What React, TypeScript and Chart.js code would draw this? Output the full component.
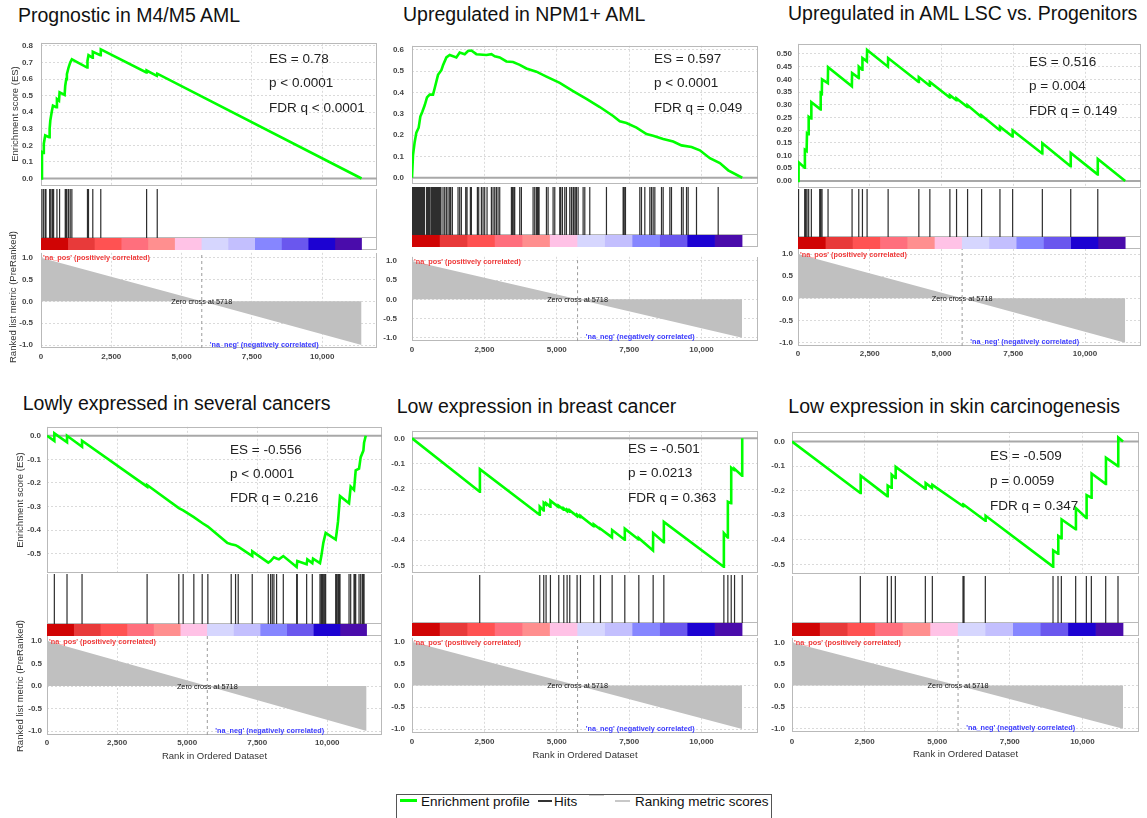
import React, { useEffect, useRef } from "react";
import { Chart, registerables } from "chart.js";

Chart.register(...registerables);

const FONT = '"Liberation Sans", Arial, Helvetica, sans-serif';

// ---------------- shared data ----------------
const X_MAX = 11950;
const ZERO_CROSS = 5718;
const X_TICKS = [0, 2500, 5000, 7500, 10000];
const X_TICK_LABELS = ["0", "2,500", "5,000", "7,500", "10,000"];
const METRIC_TICKS = [1.0, 0.5, 0.0, -0.5, -1.0];
const METRIC_TICK_LABELS = ["1.0", "0.5", "0.0", "-0.5", "-1.0"];
const METRIC_RANKS = [0, 5718, 11400];
const METRIC_VALUES = [1.0, 0.0, -1.0];
const HEAT_EDGES = [0, 950, 1900, 2850, 3800, 4750, 5700, 6650, 7600, 8550, 9500, 10450, 11400];
const HEAT_COLORS = ["#d00404", "#e83a3a", "#ff5252", "#ff6f7d", "#ff8f8f", "#ffc2e6", "#d6d6fe", "#c3bffe", "#8686ff", "#6a57ee", "#1c02d2", "#4a0cab"];
const POS_LABEL = "'na_pos' (positively correlated)";
const NEG_LABEL = "'na_neg' (negatively correlated)";
const NEG_LABEL_RANK = 6000;
const ZERO_LABEL = "Zero cross at 5718";
const ES_TITLE = "Enrichment score (ES)";
const METRIC_TITLE = "Ranked list metric (PreRanked)";
const X_TITLE = "Rank in Ordered Dataset";
const LEGEND_LABELS = ["Enrichment profile", "Hits", "Ranking metric scores"];

// ---------------- panel 1 ----------------
const P1_TITLE = "Prognostic in M4/M5 AML";
const P1_STATS = ["ES = 0.78", "p < 0.0001", "FDR q < 0.0001"];
const P1_ES_TICKS = [0, 0.1, 0.2, 0.3, 0.4, 0.5, 0.6, 0.7, 0.8];
const P1_ES = [[0, 0], [35, 0.16], [94, 0.155], [100, 0.21], [150, 0.26], [290, 0.25], [307, 0.3], [331, 0.35], [390, 0.41], [425, 0.44], [540, 0.43], [567, 0.48], [640, 0.47], [661, 0.52], [840, 0.505], [862, 0.56], [898, 0.6], [921, 0.63], [980, 0.67], [1039, 0.7], [1098, 0.72], [1640, 0.67], [1653, 0.71], [1689, 0.745], [1830, 0.73], [1842, 0.765], [2110, 0.745], [2126, 0.78], [3745, 0.64], [3756, 0.652], [4120, 0.62], [4134, 0.633], [11400, 0]];
const P1_HITS = [35, 94, 154, 177, 307, 331, 390, 425, 449, 567, 661, 862, 898, 921, 980, 1039, 1098, 1653, 1689, 1842, 2126, 3756, 4134];

// ---------------- panel 2 ----------------
const P2_TITLE = "Upregulated in NPM1+ AML";
const P2_STATS = ["ES = 0.597", "p < 0.0001", "FDR q = 0.049"];
const P2_ES_TICKS = [0, 0.1, 0.2, 0.3, 0.4, 0.5, 0.6];
const P2_ES = [[0, 0], [35, 0.107], [92, 0.167], [150, 0.212], [230, 0.235], [288, 0.287], [357, 0.31], [438, 0.34], [518, 0.377], [610, 0.39], [726, 0.39], [783, 0.42], [899, 0.483], [1014, 0.505], [1071, 0.528], [1187, 0.565], [1302, 0.576], [1532, 0.565], [1647, 0.588], [1820, 0.58], [1935, 0.595], [2051, 0.597], [2223, 0.58], [2569, 0.576], [2742, 0.58], [2857, 0.57], [3030, 0.565], [3260, 0.546], [3490, 0.543], [3721, 0.53], [3951, 0.513], [4297, 0.498], [4643, 0.475], [5103, 0.445], [5564, 0.407], [6025, 0.37], [6486, 0.332], [6947, 0.29], [7177, 0.265], [7407, 0.257], [7753, 0.235], [8099, 0.205], [8329, 0.197], [8675, 0.182], [9020, 0.17], [9308, 0.152], [9654, 0.144], [9942, 0.129], [10287, 0.092], [10633, 0.069], [10921, 0.035], [11405, 0]];
const P2_HITS = [5, 25, 50, 75, 100, 125, 150, 175, 200, 230, 260, 290, 320, 350, 380, 410, 430, 500, 525, 550, 575, 600, 625, 675, 700, 730, 760, 790, 820, 850, 880, 910, 940, 970, 1000, 1071, 1129, 1187, 1244, 1302, 1336, 1394, 1590, 1647, 1705, 1855, 1901, 2016, 2051, 2258, 2304, 2396, 2454, 2511, 2592, 2742, 2799, 2857, 2915, 2972, 3030, 3433, 3468, 3514, 3548, 3721, 3779, 4182, 4239, 4297, 4332, 4355, 4389, 4643, 4700, 4873, 4931, 5103, 5138, 5196, 5276, 5334, 5449, 5507, 5564, 5599, 5656, 5679, 5737, 5910, 5968, 6140, 6716, 7292, 7327, 7373, 7868, 7926, 8041, 8214, 8271, 8329, 8387, 8617, 8675, 8905, 8962, 9308, 9366, 9481, 9538, 9826, 10575];

// ---------------- panel 3 ----------------
const P3_TITLE = "Upregulated in AML LSC vs. Progenitors";
const P3_STATS = ["ES = 0.516", "p = 0.004", "FDR q = 0.149"];
const P3_ES_TICKS = [0, 0.05, 0.1, 0.15, 0.2, 0.25, 0.3, 0.35, 0.4, 0.45, 0.5];
const P3_ES = [[0, 0], [20, 0.074], [233, 0.052], [240, 0.123], [300, 0.118], [314, 0.188], [365, 0.184], [372, 0.253], [458, 0.246], [465, 0.31], [785, 0.282], [791, 0.347], [830, 0.344], [837, 0.4], [1040, 0.385], [1047, 0.448], [1877, 0.373], [1884, 0.425], [2110, 0.406], [2117, 0.45], [2238, 0.438], [2245, 0.484], [2400, 0.471], [2407, 0.516], [3133, 0.45], [3140, 0.484], [4203, 0.39], [4210, 0.409], [4587, 0.375], [4594, 0.39], [5285, 0.329], [5292, 0.338], [5517, 0.318], [5524, 0.325], [5901, 0.291], [5908, 0.298], [6390, 0.252], [6397, 0.258], [7029, 0.2], [7036, 0.214], [7471, 0.175], [7478, 0.199], [8506, 0.108], [8513, 0.149], [9495, 0.058], [9502, 0.11], [10437, 0.026], [10444, 0.087], [11400, 0]];
const P3_HITS = [20, 233, 267, 314, 372, 465, 756, 791, 837, 1047, 1884, 2117, 2245, 2407, 3140, 4210, 4594, 5292, 5524, 5908, 6397, 7036, 7478, 8513, 9502, 10444];

// ---------------- panel 4 ----------------
const P4_TITLE = "Lowly expressed in several cancers";
const P4_STATS = ["ES = -0.556", "p < 0.0001", "FDR q = 0.216"];
const P4_ES_TICKS = [0, -0.1, -0.2, -0.3, -0.4, -0.5];
const P4_ES = [[0, 0], [262, -0.022], [262, 0.01], [714, -0.028], [714, 0.0], [1250, -0.047], [1250, -0.021], [3571, -0.216], [3571, -0.209], [4702, -0.307], [4857, -0.316], [5238, -0.345], [5536, -0.37], [5738, -0.385], [6428, -0.454], [6571, -0.46], [6726, -0.464], [6821, -0.47], [7321, -0.51], [7321, -0.49], [7893, -0.538], [7976, -0.531], [8095, -0.515], [8190, -0.52], [8274, -0.524], [8429, -0.51], [8905, -0.556], [8929, -0.531], [9262, -0.545], [9286, -0.524], [9464, -0.54], [9490, -0.521], [9738, -0.54], [9786, -0.51], [9857, -0.454], [9940, -0.412], [10298, -0.44], [10333, -0.41], [10381, -0.363], [10452, -0.256], [10774, -0.286], [10833, -0.216], [10952, -0.23], [11012, -0.147], [11131, -0.14], [11190, -0.091], [11286, -0.063], [11310, -0.03], [11370, 0]];
const P4_HITS = [262, 714, 1250, 3571, 4702, 4857, 5238, 5536, 5738, 6571, 6726, 6821, 7321, 7893, 7976, 8036, 8095, 8190, 8429, 8905, 8929, 9262, 9464, 9738, 9786, 9821, 9857, 9905, 9940, 10298, 10333, 10381, 10417, 10452, 10774, 10833, 10952, 10988, 11012, 11131, 11190, 11250, 11286, 11310];

// ---------------- panel 5 ----------------
const P5_TITLE = "Low expression in breast cancer";
const P5_STATS = ["ES = -0.501", "p = 0.0213", "FDR q = 0.363"];
const P5_ES_TICKS = [0, -0.1, -0.2, -0.3, -0.4, -0.5];
const P5_ES = [[0, 0], [2339, -0.21], [2345, -0.121], [4406, -0.3], [4412, -0.268], [4544, -0.283], [4550, -0.253], [4625, -0.26], [4631, -0.255], [4775, -0.268], [4781, -0.245], [5063, -0.27], [5069, -0.265], [5236, -0.28], [5242, -0.275], [5351, -0.285], [5357, -0.28], [5443, -0.288], [5449, -0.283], [5696, -0.305], [5702, -0.3], [5812, -0.31], [5818, -0.305], [6272, -0.345], [6278, -0.338], [6503, -0.357], [6509, -0.355], [6906, -0.389], [6912, -0.36], [7344, -0.398], [7350, -0.355], [7828, -0.397], [7834, -0.392], [8323, -0.44], [8329, -0.372], [8692, -0.408], [8698, -0.328], [10765, -0.504], [10771, -0.372], [10903, -0.389], [10909, -0.249], [11019, -0.255], [11025, -0.115], [11134, -0.125], [11140, -0.12], [11400, -0.147], [11405, 0]];
const P5_HITS = [2339, 4412, 4550, 4631, 4781, 5069, 5242, 5357, 5449, 5702, 5818, 6278, 6509, 6912, 7350, 7834, 8329, 8698, 10771, 10909, 11025, 11140, 11405];

// ---------------- panel 6 ----------------
const P6_TITLE = "Low expression in skin carcinogenesis";
const P6_STATS = ["ES = -0.509", "p = 0.0059", "FDR q = 0.347"];
const P6_ES_TICKS = [0, -0.1, -0.2, -0.3, -0.4, -0.5];
const P6_ES = [[0, 0], [2353, -0.209], [2365, -0.139], [3283, -0.222], [3295, -0.179], [3421, -0.188], [3433, -0.135], [3559, -0.148], [3571, -0.103], [4592, -0.192], [4603, -0.169], [4821, -0.188], [4833, -0.176], [5880, -0.262], [5889, -0.258], [5924, -0.262], [5930, -0.258], [6658, -0.322], [6668, -0.302], [8989, -0.509], [8995, -0.443], [9161, -0.456], [9170, -0.384], [9276, -0.393], [9285, -0.317], [9769, -0.357], [9778, -0.271], [10137, -0.311], [10146, -0.218], [10309, -0.228], [10318, -0.13], [10803, -0.172], [10812, -0.066], [11227, -0.1], [11236, 0.016], [11400, 0]];
const P6_HITS = [2353, 3283, 3421, 3559, 4592, 4833, 5889, 5924, 6658, 8989, 9161, 9276, 9769, 10137, 10309, 10803, 11227];

// ---------------- layout (pixels) ----------------
const AXIS_W = 44;
const M = 10;

const LAYOUTS = [
  { left: 41, ppr: 0.0281, esTop: 40, es0: 181, esK: 172.1, hitsTop: 189, heatTop: 238, heatBottom: 250, m1: 255, mM1: 345, metricBottom: 348, tickY: 357, titleX: 18, titleBase: 22.5, statsX: 269, statsBase: [63, 87.5, 112], esPad: 8, metPad: 8, dec: 1, esTitleX: 15, metTitleX: 13, esTitleY: 114, metTitleY: 297, xTitleY: 0 },
  { left: 412, ppr: 0.02894, esTop: 43, es0: 180.3, esK: 221.7, hitsTop: 187, heatTop: 235, heatBottom: 247, m1: 251.7, mM1: 340, metricBottom: 344, tickY: 353, titleX: 403, titleBase: 21.7, statsX: 654, statsBase: [63, 87.5, 112], esPad: 8, metPad: 15, dec: 1, esTitleX: 0, metTitleX: 0, esTitleY: 0, metTitleY: 0, xTitleY: 0 },
  { left: 798, ppr: 0.02867, esTop: 43, es0: 181.7, esK: 256.8, hitsTop: 189, heatTop: 237, heatBottom: 249, m1: 254, mM1: 342.7, metricBottom: 346, tickY: 354, titleX: 788, titleBase: 20.7, statsX: 1029, statsBase: [66, 90, 115], esPad: 6, metPad: 5, dec: 2, esTitleX: 0, metTitleX: 0, esTitleY: 0, metTitleY: 0, xTitleY: 0 },
  { left: 47, ppr: 0.028, esTop: 426, es0: 435, esK: 238.6, hitsTop: 574, heatTop: 624, heatBottom: 636, m1: 641, mM1: 731, metricBottom: 735, tickY: 743, titleX: 22.7, titleBase: 410.7, statsX: 230, statsBase: [454, 478, 502], esPad: 6, metPad: 5, dec: 1, esTitleX: 20, metTitleX: 20, esTitleY: 500, metTitleY: 686, xTitleY: 756 },
  { left: 412, ppr: 0.02894, esTop: 429, es0: 436.7, esK: 261.2, hitsTop: 575, heatTop: 623, heatBottom: 636, m1: 640, mM1: 729, metricBottom: 733, tickY: 742, titleX: 396.7, titleBase: 413.3, statsX: 628, statsBase: [453, 477, 502], esPad: 7, metPad: 7, dec: 1, esTitleX: 0, metTitleX: 0, esTitleY: 0, metTitleY: 0, xTitleY: 755 },
  { left: 792, ppr: 0.02904, esTop: 430, es0: 440, esK: 252, hitsTop: 576, heatTop: 623, heatBottom: 636, m1: 640.7, mM1: 728.7, metricBottom: 732, tickY: 742, titleX: 788.3, titleBase: 414, statsX: 990, statsBase: [460, 485, 510], esPad: 7, metPad: 7, dec: 1, esTitleX: 0, metTitleX: 0, esTitleY: 0, metTitleY: 0, xTitleY: 754 },
];

const PANELS = [
  { title: P1_TITLE, stats: P1_STATS, esTicks: P1_ES_TICKS, es: P1_ES, hits: P1_HITS },
  { title: P2_TITLE, stats: P2_STATS, esTicks: P2_ES_TICKS, es: P2_ES, hits: P2_HITS },
  { title: P3_TITLE, stats: P3_STATS, esTicks: P3_ES_TICKS, es: P3_ES, hits: P3_HITS },
  { title: P4_TITLE, stats: P4_STATS, esTicks: P4_ES_TICKS, es: P4_ES, hits: P4_HITS },
  { title: P5_TITLE, stats: P5_STATS, esTicks: P5_ES_TICKS, es: P5_ES, hits: P5_HITS },
  { title: P6_TITLE, stats: P6_STATS, esTicks: P6_ES_TICKS, es: P6_ES, hits: P6_HITS },
];

// ---------------- plugins ----------------
const framePlugin = {
  id: "frame",
  beforeDatasetsDraw(chart: any, _args: any, opts: any) {
    const { ctx, chartArea: a } = chart;
    const sides: string = (opts && opts.sides) || "tblr";
    const l = Math.round(a.left) + 0.5;
    const r = Math.round(a.right) - 0.5;
    const t = Math.round(a.top) + 0.5;
    const b = Math.round(a.bottom) - 0.5;
    ctx.save();
    ctx.strokeStyle = "#b9b9b9";
    ctx.lineWidth = 1;
    ctx.beginPath();
    if (sides.includes("t")) { ctx.moveTo(l, t); ctx.lineTo(r, t); }
    if (sides.includes("b")) { ctx.moveTo(l, b); ctx.lineTo(r, b); }
    if (sides.includes("l")) { ctx.moveTo(l, Math.round(a.top)); ctx.lineTo(l, Math.round(a.bottom)); }
    if (sides.includes("r")) { ctx.moveTo(r, Math.round(a.top)); ctx.lineTo(r, Math.round(a.bottom)); }
    ctx.stroke();
    ctx.restore();
  },
};

const metricTextPlugin = {
  id: "metricText",
  afterDatasetsDraw(chart: any) {
    const { ctx, chartArea: a, scales } = chart;
    const x = scales.x;
    const y = scales.y;
    ctx.save();
    ctx.textAlign = "left";
    ctx.textBaseline = "alphabetic";
    ctx.font = `bold 7.3px ${FONT}`;
    ctx.fillStyle = "#f03a3a";
    ctx.fillText(POS_LABEL, a.left + 2, a.top + 7.5);
    ctx.font = `7.3px ${FONT}`;
    ctx.fillStyle = "#111111";
    ctx.textAlign = "center";
    ctx.textBaseline = "middle";
    ctx.fillText(ZERO_LABEL, x.getPixelForValue(ZERO_CROSS), y.getPixelForValue(0) + 0.5);
    ctx.font = `bold 7.3px ${FONT}`;
    ctx.fillStyle = "#3c3cff";
    ctx.textAlign = "left";
    ctx.textBaseline = "alphabetic";
    ctx.fillText(NEG_LABEL, x.getPixelForValue(NEG_LABEL_RANK), y.getPixelForValue(-1) + 1.5);
    ctx.restore();
  },
};

function fmt(v: number, dec: number) {
  const s = Number(v).toFixed(dec);
  return Number(s) === 0 ? (0).toFixed(dec) : s;
}

// ---------------- text helpers ----------------
function Txt(props: { x: number; base: number; size: number; text: string; color?: string; center?: boolean }) {
  const { x, base, size, text, color, center } = props;
  return (
    <div
      style={{
        position: "absolute",
        left: x,
        top: base - 0.8465 * size,
        fontFamily: FONT,
        fontSize: size,
        lineHeight: `${size}px`,
        color: color || "#111",
        whiteSpace: "nowrap",
        transform: center ? "translateX(-50%)" : undefined,
      }}
    >
      {text}
    </div>
  );
}

function VTxt(props: { x: number; y: number; size: number; text: string }) {
  const { x, y, size, text } = props;
  return (
    <div
      style={{
        position: "absolute",
        left: x,
        top: y,
        fontFamily: FONT,
        fontSize: size,
        lineHeight: `${size}px`,
        color: "#333",
        whiteSpace: "nowrap",
        transform: "translate(-50%, -50%) rotate(-90deg)",
      }}
    >
      {text}
    </div>
  );
}

// ---------------- panel ----------------
function Panel(props: { d: any; L: any }) {
  const { d, L } = props;
  const esRef = useRef<HTMLCanvasElement>(null);
  const hitsRef = useRef<HTMLCanvasElement>(null);
  const heatRef = useRef<HTMLCanvasElement>(null);
  const metRef = useRef<HTMLCanvasElement>(null);

  const x0 = Math.round(L.left);
  const W = Math.round(X_MAX * L.ppr);
  const cx = x0 - AXIS_W;
  const cw = AXIS_W + W + M;
  const esTop = Math.round(L.esTop);
  const hitsTop = Math.round(L.hitsTop);
  const heatTop = Math.round(L.heatTop);
  const heatBot = Math.round(L.heatBottom);
  const metBot = Math.round(L.metricBottom);
  const xPad = Math.max(0, L.tickY - metBot - 4.8);
  const xAxisH = Math.ceil(xPad + 12);
  const esH = hitsTop - esTop + 2 * M;
  const hitsH = heatTop - hitsTop + 2 * M;
  const heatH = heatBot - heatTop + 2 * M;
  const metH = metBot - heatBot + M + xAxisH;

  useEffect(() => {
    const tickFont = { family: FONT, size: 8, weight: "bold" as any };
    const grid = { color: "#dadada", drawTicks: false, lineWidth: 1 };
    const border = { display: false, dash: [2, 2] };
    const base = {
      animation: false as const,
      responsive: false,
      events: [] as any[],
    };
    const noPlug = { legend: { display: false }, tooltip: { enabled: false } };

    const esMax = (L.es0 - esTop) / L.esK;
    const esMin = (L.es0 - hitsTop) / L.esK;

    const xGrid = {
      type: "linear",
      min: 0,
      max: X_MAX,
      afterBuildTicks: (s: any) => { s.ticks = X_TICKS.map((v) => ({ value: v })); },
      ticks: { display: false },
      grid,
      border,
      afterFit: (s: any) => { s.height = 0; },
    };

    const esChart = new Chart(esRef.current as any, {
      type: "line",
      data: {
        datasets: [
          { data: d.es.map((p: number[]) => ({ x: p[0], y: p[1] })), borderColor: "#00ff00", borderWidth: 2.6, pointRadius: 0, tension: 0, order: 0 },
          { data: [{ x: 0, y: 0 }, { x: X_MAX, y: 0 }], borderColor: "#a8a8a8", borderWidth: 2, pointRadius: 0, order: 1 },
        ],
      },
      options: {
        ...base,
        layout: { padding: { left: 0, top: M, right: M, bottom: M } },
        plugins: { ...noPlug, frame: { sides: "tblr" } } as any,
        scales: {
          x: xGrid as any,
          y: {
            type: "linear",
            min: esMin,
            max: esMax,
            afterBuildTicks: (s: any) => { s.ticks = d.esTicks.map((v: number) => ({ value: v })); },
            ticks: { font: tickFont, color: "#454545", padding: L.esPad, callback: (v: any) => fmt(v, L.dec) },
            grid,
            border,
            afterFit: (s: any) => { s.width = AXIS_W; },
          } as any,
        },
      },
      plugins: [framePlugin as any],
    });

    // each hit is a vertical segment from the bottom (0) to the top (1) of the hits band
    const hitSegments: any[] = [];
    d.hits.forEach((h: number) => {
      hitSegments.push({ x: h, y: 0 }, { x: h, y: 1 }, { x: h, y: null });
    });

    const hitsChart = new Chart(hitsRef.current as any, {
      type: "line",
      data: {
        datasets: [
          {
            data: hitSegments,
            borderColor: "#2e2e2e",
            borderWidth: 1.2,
            pointRadius: 0,
            spanGaps: false,
            tension: 0,
          } as any,
        ],
      },
      options: {
        ...base,
        layout: { padding: { left: AXIS_W, top: M, right: M, bottom: M } },
        plugins: { ...noPlug, frame: { sides: "blr" } } as any,
        scales: {
          x: { type: "linear", display: false, min: 0, max: X_MAX },
          y: { type: "linear", display: false, min: 0, max: 1 },
        },
      },
      plugins: [framePlugin as any],
    });

    const heatChart = new Chart(heatRef.current as any, {
      type: "bar",
      data: {
        labels: ["rank"],
        datasets: HEAT_COLORS.map((c, i) => ({
          data: [[HEAT_EDGES[i], HEAT_EDGES[i + 1]]],
          backgroundColor: c,
          borderWidth: 0,
          barPercentage: 1,
          categoryPercentage: 1,
          grouped: false,
        })) as any,
      },
      options: {
        ...base,
        indexAxis: "y",
        layout: { padding: { left: AXIS_W, top: M, right: M, bottom: M } },
        plugins: { ...noPlug, frame: { sides: "blr" } } as any,
        scales: {
          x: { type: "linear", display: false, min: 0, max: X_MAX },
          y: { type: "category", display: false },
        },
      },
      plugins: [framePlugin as any],
    });

    const k = (L.mM1 - L.m1) / 2;
    const mid = (L.m1 + L.mM1) / 2;
    const mMax = (mid - heatBot) / k;
    const mMin = (mid - metBot) / k;

    const metChart = new Chart(metRef.current as any, {
      type: "line",
      data: {
        datasets: [
          { data: METRIC_RANKS.map((x, i) => ({ x, y: METRIC_VALUES[i] })), fill: "origin", backgroundColor: "#c0c0c0", borderColor: "rgba(0,0,0,0)", borderWidth: 0, pointRadius: 0, order: 1 },
          { data: [{ x: ZERO_CROSS, y: mMin }, { x: ZERO_CROSS, y: mMax }], borderColor: "#9c9c9c", borderWidth: 1, borderDash: [3, 3], pointRadius: 0, order: 0 },
        ] as any,
      },
      options: {
        ...base,
        layout: { padding: { left: 0, top: M, right: M, bottom: 0 } },
        plugins: { ...noPlug, frame: { sides: "blr" } } as any,
        scales: {
          x: {
            type: "linear",
            min: 0,
            max: X_MAX,
            afterBuildTicks: (s: any) => { s.ticks = X_TICKS.map((v) => ({ value: v })); },
            ticks: { font: tickFont, color: "#454545", padding: xPad, maxRotation: 0, autoSkip: false, callback: (v: any) => X_TICK_LABELS[X_TICKS.indexOf(Number(v))] },
            grid,
            border,
            afterFit: (s: any) => { s.height = xAxisH; },
          } as any,
          y: {
            type: "linear",
            min: mMin,
            max: mMax,
            afterBuildTicks: (s: any) => { s.ticks = METRIC_TICKS.map((v) => ({ value: v })); },
            ticks: { font: tickFont, color: "#454545", padding: L.metPad, callback: (v: any) => METRIC_TICK_LABELS[METRIC_TICKS.indexOf(Number(v))] },
            grid,
            border,
            afterFit: (s: any) => { s.width = AXIS_W; },
          } as any,
        },
      },
      plugins: [framePlugin as any, metricTextPlugin as any],
    });

    return () => {
      esChart.destroy();
      hitsChart.destroy();
      heatChart.destroy();
      metChart.destroy();
    };
  }, []);

  const cstyle = (top: number, h: number) => ({ position: "absolute" as const, left: cx, top, width: cw, height: h });

  return (
    <>
      <Txt x={L.titleX} base={L.titleBase} size={19.5} text={d.title} color="#111" />
      <canvas ref={esRef} width={cw} height={esH} style={cstyle(esTop - M, esH)} />
      <canvas ref={hitsRef} width={cw} height={hitsH} style={cstyle(hitsTop - M, hitsH)} />
      <canvas ref={heatRef} width={cw} height={heatH} style={cstyle(heatTop - M, heatH)} />
      <canvas ref={metRef} width={cw} height={metH} style={cstyle(heatBot - M, metH)} />
      {d.stats.map((s: string, i: number) => (
        <Txt key={i} x={L.statsX} base={L.statsBase[i]} size={13.5} text={s} color="#222" />
      ))}
      {L.esTitleX ? <VTxt x={L.esTitleX} y={L.esTitleY} size={9.5} text={ES_TITLE} /> : null}
      {L.metTitleX ? <VTxt x={L.metTitleX} y={L.metTitleY} size={9.5} text={METRIC_TITLE} /> : null}
      {L.xTitleY ? <Txt x={x0 + W / 2} base={L.xTitleY + 3.5} size={9.5} text={X_TITLE} color="#333" center /> : null}
    </>
  );
}

function Legend() {
  const lx = 396;
  const ly = 794;
  return (
    <div style={{ position: "absolute", left: lx, top: ly, width: 376, height: 30, border: "1px solid #555", boxSizing: "border-box", background: "#fff" }}>
      <div style={{ position: "absolute", left: 3, top: 4, width: 17, height: 3, background: "#00ff00" }} />
      <Txt x={24} base={11} size={13.5} text={LEGEND_LABELS[0]} color="#111" />
      <div style={{ position: "absolute", left: 141, top: 5, width: 14, height: 2, background: "#333" }} />
      <Txt x={157} base={11} size={13.5} text={LEGEND_LABELS[1]} color="#111" />
      <div style={{ position: "absolute", left: 192, top: 0, width: 15, height: 1, background: "#d0d0d0" }} />
      <div style={{ position: "absolute", left: 218, top: 5, width: 15, height: 2, background: "#c8c8c8" }} />
      <Txt x={238} base={11} size={13.5} text={LEGEND_LABELS[2]} color="#111" />
    </div>
  );
}

export default function App() {
  return (
    <div style={{ position: "absolute", left: 0, top: 0, width: 1147, height: 818, overflow: "hidden", background: "#fff" }}>
      {PANELS.map((d, i) => (
        <Panel key={i} d={d} L={LAYOUTS[i]} />
      ))}
      <Legend />
    </div>
  );
}
